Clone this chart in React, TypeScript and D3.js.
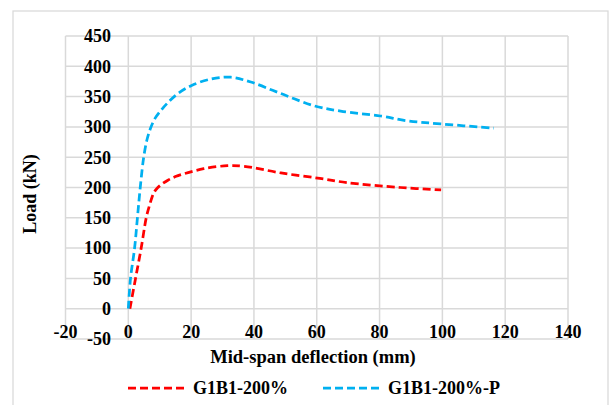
import React from "react";
import * as d3 from "d3";

// Load–deflection response of the two beams
const redDeflection = [0.5, 2.3, 4.1, 5.7, 6.5, 7.3, 8.2, 9.4, 10.8, 12.6, 15, 17.9, 24, 31.6, 36.9, 48.6, 61, 69.7, 86.7, 99.6];
const redLoad = [0, 50, 100, 150, 166, 180, 192, 200, 206, 212, 218, 223, 231, 236, 235, 224, 215, 208, 200, 196];

const blueDeflection = [0, 0.7, 2, 2.9, 3.8, 4.9, 6, 7.1, 8.5, 10.5, 12.6, 15.8, 20, 26.3, 32.7, 39, 48.6, 59, 67.6, 80.3, 88.8, 99.4, 116.3];
const blueLoad = [0, 50, 100, 150, 200, 250, 280, 298, 314, 328, 340, 355, 368, 379, 382, 374, 355, 335, 326, 318, 310, 305, 298];

const xTicks = [-20, 0, 20, 40, 60, 80, 100, 120, 140];
const yTicks = [-50, 0, 50, 100, 150, 200, 250, 300, 350, 400, 450];

const seriesNames = ["G1B1-200%", "G1B1-200%-P"];
const seriesColors = ["#FF0000", "#00B0F0"];

const W = 610;
const H = 405;
const font = "Liberation Serif";

export default function App() {
  const x = d3.scaleLinear().domain([-20, 140]).range([65.5, 568]);
  const y = d3.scaleLinear().domain([-50, 450]).range([339, 36]);

  const line = d3
    .line<[number, number]>()
    .x((d) => x(d[0]))
    .y((d) => y(d[1]))
    .curve(d3.curveCatmullRom.alpha(0.5));

  const series = [
    redDeflection.map((v, i) => [v, redLoad[i]] as [number, number]),
    blueDeflection.map((v, i) => [v, blueLoad[i]] as [number, number]),
  ];

  const textProps = {
    fontFamily: font,
    fontWeight: "bold",
    fontSize: 18,
    fill: "#000",
  };

  return (
    <svg
      width={W}
      height={H}
      style={{ position: "absolute", left: 0, top: 0, background: "#fff" }}
    >
      <rect x={13} y={11} width={595} height={400} fill="#fff" stroke="#d9d9d9" strokeWidth={1.25} />

      {/* grid */}
      {xTicks.map((t) => (
        <line key={"gx" + t} x1={x(t)} x2={x(t)} y1={y(-50)} y2={y(450)} stroke="#d9d9d9" strokeWidth={1.5} />
      ))}
      {yTicks.map((t) => (
        <line key={"gy" + t} x1={x(-20)} x2={x(140)} y1={y(t)} y2={y(t)} stroke="#d9d9d9" strokeWidth={1.5} />
      ))}

      {/* y tick labels, beside the axis at x = 0 */}
      {yTicks.map((t) => (
        <text key={"ty" + t} x={111} y={y(t)} dy="0.35em" textAnchor="end" {...textProps}>
          {t}
        </text>
      ))}

      {/* x tick labels, below the axis at y = 0 */}
      {xTicks.map((t) => (
        <text key={"tx" + t} x={x(t)} y={332} dy="0.35em" textAnchor="middle" {...textProps}>
          {t}
        </text>
      ))}

      {/* curves */}
      {series.map((s, i) => (
        <path
          key={"s" + i}
          d={line(s) || ""}
          fill="none"
          stroke={seriesColors[i]}
          strokeWidth={2.75}
          strokeDasharray="8 4"
        />
      ))}

      {/* axis titles */}
      <text x={313} y={357} dy="0.35em" textAnchor="middle" {...textProps} fontSize={18.5}>
        Mid-span deflection (mm)
      </text>
      <text transform="translate(30,194) rotate(-90)" dy="0.35em" textAnchor="middle" {...textProps}>
        Load (kN)
      </text>

      {/* legend */}
      {seriesNames.map((name, i) => {
        const lx = i === 0 ? 128 : 323;
        return (
          <g key={"lg" + i}>
            <line
              x1={lx}
              x2={lx + 60}
              y1={388}
              y2={388}
              stroke={seriesColors[i]}
              strokeWidth={2.75}
              strokeDasharray="8 4"
            />
            <text x={lx + 65} y={388} dy="0.35em" {...textProps}>
              {name}
            </text>
          </g>
        );
      })}
    </svg>
  );
}
